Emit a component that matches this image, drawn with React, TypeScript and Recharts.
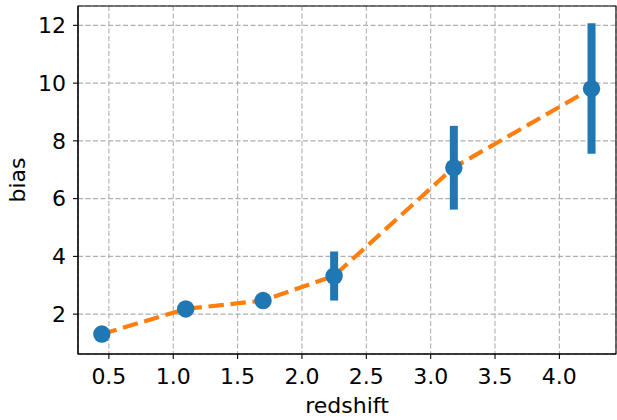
import React from 'react';
import {
  ComposedChart,
  Line,
  Scatter,
  ErrorBar,
  XAxis,
  YAxis,
  CartesianGrid,
  ReferenceArea,
  Label,
} from 'recharts';

// measured bias per redshift bin
const redshift = [0.445, 1.097, 1.698, 2.25, 3.18, 4.25];
const bias = [1.31, 2.18, 2.47, 3.32, 7.07, 9.81];
const biasErr = [0, 0, 0, 0.85, 1.45, 2.26];
// dashed model curve
const model = [1.31, 2.18, 2.47, 3.33, 7.08, 9.81];

const xTicks = [0.5, 1.0, 1.5, 2.0, 2.5, 3.0, 3.5, 4.0];
const yTicks = [2, 4, 6, 8, 10, 12];
const xDomain: [number, number] = [0.26, 4.44];
const yDomain: [number, number] = [0.62, 12.67];

const rows = redshift.map((z, i) => ({
  z,
  bias: bias[i],
  err: biasErr[i],
  model: model[i],
}));

const FONT = 'DejaVu Sans';
const tickStyle = { fontSize: 22, fill: '#000', fontFamily: FONT };

const Dot = (props: any) => (
  <circle cx={props.cx} cy={props.cy} r={8.7} fill="#1f77b4" />
);

export default function App() {
  return (
    <div style={{ position: 'absolute', left: 0, top: 0, fontFamily: FONT }}>
      <ComposedChart
        width={617}
        height={420}
        data={rows}
        margin={{ top: 6, right: 1, left: 0, bottom: 0 }}
      >
        <CartesianGrid stroke="#b0b0b0" strokeWidth={1.1} strokeDasharray="5 2.5" />
        <XAxis
          type="number"
          dataKey="z"
          domain={xDomain}
          allowDataOverflow
          ticks={xTicks}
          tickFormatter={(v: number) => v.toFixed(1)}
          height={66}
          tickSize={5}
          tickMargin={9}
          tick={tickStyle}
          stroke="#000"
          axisLine={{ stroke: '#000', strokeWidth: 1.1 }}
          tickLine={{ stroke: '#000', strokeWidth: 1.1 }}
        >
          <Label
            value="redshift"
            position="insideBottom"
            offset={7}
            style={{ fontSize: 22, fill: '#000', fontFamily: FONT }}
          />
        </XAxis>
        <YAxis
          type="number"
          domain={yDomain}
          allowDataOverflow
          ticks={yTicks}
          width={78}
          tickSize={5}
          tickMargin={7}
          tick={tickStyle}
          stroke="#000"
          axisLine={{ stroke: '#000', strokeWidth: 1.1 }}
          tickLine={{ stroke: '#000', strokeWidth: 1.1 }}
        >
          <Label
            content={() => (
              <text
                x={25}
                y={180}
                transform="rotate(-90 25 180)"
                textAnchor="middle"
                fontSize={22}
                fontFamily={FONT}
                fill="#000"
              >
                bias
              </text>
            )}
          />
        </YAxis>
        <Line
          type="linear"
          dataKey="model"
          stroke="#ff7f0e"
          strokeWidth={4.2}
          strokeDasharray="15.4 6.7"
          dot={false}
          activeDot={false}
          isAnimationActive={false}
        />
        <Scatter
          data={rows}
          dataKey="bias"
          fill="#1f77b4"
          shape={Dot}
          isAnimationActive={false}
        >
          <ErrorBar
            dataKey="err"
            direction="y"
            width={0}
            stroke="#1f77b4"
            strokeWidth={8}
            isAnimationActive={false}
          />
        </Scatter>
        <ReferenceArea
          x1={xDomain[0]}
          x2={xDomain[1]}
          y1={yDomain[0]}
          y2={yDomain[1]}
          fill="none"
          stroke="#000"
          strokeWidth={1.1}
          ifOverflow="visible"
        />
      </ComposedChart>
    </div>
  );
}
